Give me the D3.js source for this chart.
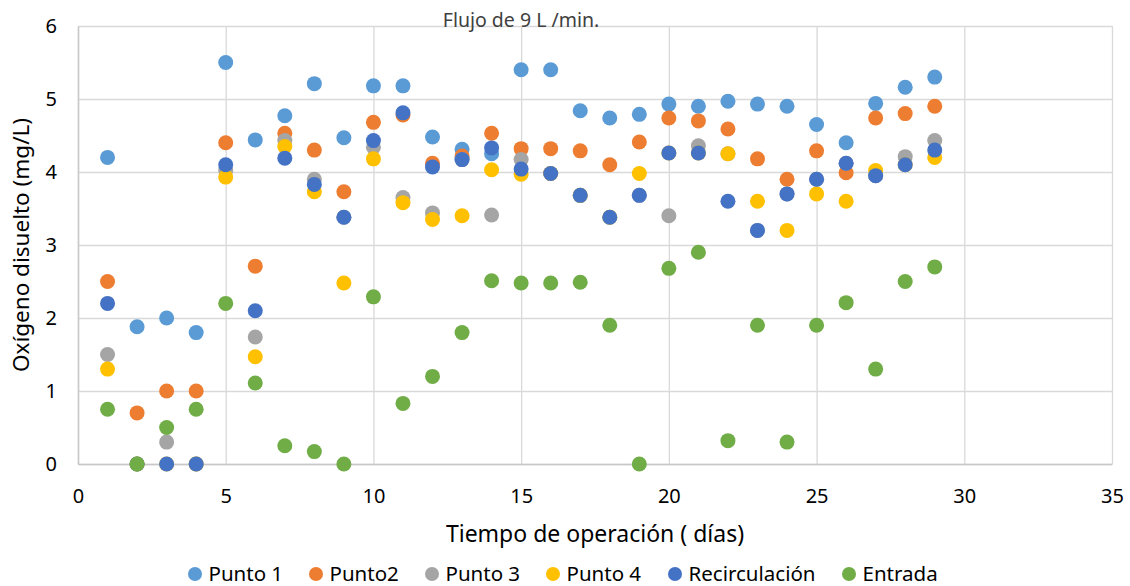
<!DOCTYPE html>
<html>
<head>
<meta charset="utf-8">
<script src="https://cdn.jsdelivr.net/npm/d3@7"></script>
<style>
  body { margin: 0; background: #fff; }
  text { font-family: "Noto Sans", "Open Sans", sans-serif; }
</style>
</head>
<body>
<script>
// Chart data (days 1..29)
var days = d3.range(1, 30);
var seriesNames = ["Punto 1", "Punto2", "Punto 3", "Punto 4", "Recirculación", "Entrada"];
var seriesColors = ["#5B9BD5", "#ED7D31", "#A5A5A5", "#FFC000", "#4472C4", "#70AD47"];
var punto1 = [4.2,1.88,2.0,1.8,5.5,4.44,4.77,5.21,4.47,5.18,5.18,4.48,4.31,4.25,5.4,5.4,4.84,4.74,4.79,4.93,4.9,4.97,4.93,4.9,4.65,4.4,4.94,5.16,5.3];
var punto2 = [2.5,0.7,1.0,1.0,4.4,2.71,4.53,4.3,3.73,4.68,4.78,4.12,4.22,4.53,4.32,4.32,4.29,4.1,4.41,4.74,4.7,4.59,4.18,3.9,4.29,3.99,4.74,4.8,4.9];
var punto3 = [1.5,0,0.3,0,4.02,1.74,4.43,3.9,3.38,4.34,3.65,3.44,4.17,3.41,4.17,3.98,3.68,3.38,3.68,3.4,4.36,4.25,3.2,3.7,3.9,4.12,3.95,4.21,4.43];
var punto4 = [1.3,0,0,0,3.93,1.47,4.35,3.73,2.48,4.18,3.58,3.35,3.4,4.03,3.97,3.98,3.68,3.38,3.98,4.26,4.26,4.25,3.6,3.2,3.7,3.6,4.02,4.1,4.2];
var recirculacion = [2.2,0,0,0,4.1,2.1,4.19,3.83,3.38,4.43,4.81,4.07,4.17,4.33,4.04,3.98,3.68,3.38,3.68,4.26,4.26,3.6,3.2,3.7,3.9,4.12,3.95,4.1,4.3];
var entrada = [0.75,0,0.5,0.75,2.2,1.11,0.25,0.17,0,2.29,0.83,1.2,1.8,2.51,2.48,2.48,2.49,1.9,0,2.68,2.9,0.32,1.9,0.3,1.9,2.21,1.3,2.5,2.7];
var xTicks = [0, 5, 10, 15, 20, 25, 30, 35];
var yTicks = [0, 1, 2, 3, 4, 5, 6];

var allSeries = [punto1, punto2, punto3, punto4, recirculacion, entrada];

var w = 1130, h = 586;
var plotLeft = 78, plotRight = 1112, plotTop = 26, plotBottom = 464;

var svg = d3.select("body").append("svg")
    .attr("width", w)
    .attr("height", h);

var x = d3.scaleLinear().domain([0, 35]).range([plotLeft, plotRight]);
var y = d3.scaleLinear().domain([0, 6]).range([plotBottom, plotTop]);

//Gridlines
svg.append("g")
    .attr("transform", "translate(0," + plotBottom + ")")
    .call(d3.axisBottom(x).tickValues(xTicks).tickSize(-(plotBottom - plotTop)).tickFormat(""))
    .call(function(g) {
        g.select(".domain").remove();
        g.selectAll("line").attr("stroke", "#D9D9D9").attr("stroke-width", 1.3);
    });
svg.append("g")
    .attr("transform", "translate(" + plotLeft + ",0)")
    .call(d3.axisLeft(y).tickValues(yTicks).tickSize(-(plotRight - plotLeft)).tickFormat(""))
    .call(function(g) {
        g.select(".domain").remove();
        g.selectAll("line").attr("stroke", "#D9D9D9").attr("stroke-width", 1.3);
    });

//Axis lines and labels
svg.append("g")
    .attr("transform", "translate(0," + plotBottom + ")")
    .call(d3.axisBottom(x).tickValues(xTicks).tickSize(0).tickPadding(25).tickFormat(d3.format("d")))
    .call(function(g) {
        g.select(".domain").attr("stroke", "#C8C8C8").attr("stroke-width", 1.5);
        g.selectAll("text").attr("font-size", 20).attr("fill", "#000")
            .style("font-family", "'Noto Sans', sans-serif");
    });
svg.append("g")
    .attr("transform", "translate(" + plotLeft + ",0)")
    .call(d3.axisLeft(y).tickValues(yTicks).tickSize(0).tickPadding(21).tickFormat(d3.format("d")))
    .call(function(g) {
        g.select(".domain").attr("stroke", "#C8C8C8").attr("stroke-width", 1.5);
        g.selectAll("text").attr("font-size", 20).attr("fill", "#000")
            .style("font-family", "'Noto Sans', sans-serif");
    });

//Points, drawn in series order so Entrada ends on top
allSeries.forEach(function(vals, i) {
    svg.append("g").selectAll("circle")
        .data(vals)
        .enter()
        .append("circle")
        .attr("cx", function(d, j) { return x(days[j]); })
        .attr("cy", function(d) { return y(d); })
        .attr("r", 7.5)
        .attr("fill", seriesColors[i]);
});

//Title
svg.append("text")
    .attr("x", 521).attr("y", 27)
    .attr("text-anchor", "middle")
    .attr("font-size", 19.5)
    .attr("fill", "#404040")
    .text("Flujo de 9 L /min.");

//Axis titles
svg.append("text")
    .attr("x", 595).attr("y", 542)
    .attr("text-anchor", "middle")
    .attr("font-size", 23)
    .text("Tiempo de operación ( días)");
svg.append("text")
    .attr("transform", "translate(29,245) rotate(-90)")
    .attr("text-anchor", "middle")
    .attr("font-size", 22.5)
    .text("Oxígeno disuelto (mg/L)");

//Legend
var legendX = [195, 316, 432, 553, 675, 849];
var legend = svg.append("g").selectAll("g")
    .data(seriesNames)
    .enter()
    .append("g")
    .attr("transform", function(d, i) { return "translate(" + legendX[i] + ",574)"; });
legend.append("circle")
    .attr("r", 7)
    .attr("fill", function(d, i) { return seriesColors[i]; });
legend.append("text")
    .attr("x", 13.5)
    .attr("y", 6.5)
    .attr("font-size", 20.5)
    .text(function(d) { return d; });
</script>
</body>
</html>
